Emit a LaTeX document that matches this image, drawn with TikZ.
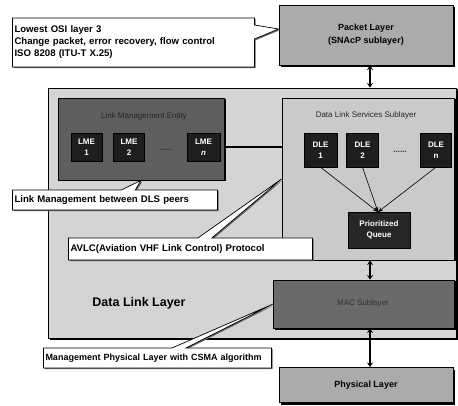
\documentclass[tikz,border=0pt]{standalone}
\usepackage{fontspec}
\setmainfont{Liberation Sans}
\usetikzlibrary{shapes.callouts,shadows,arrows.meta}

\definecolor{layerfill}{HTML}{ABABAB}
\definecolor{dllfill}{HTML}{D4D4D4}
\definecolor{dlsfill}{HTML}{CACACA}
\definecolor{lmefill}{HTML}{5E5E5E}
\definecolor{macfill}{HTML}{6A6A6A}
\definecolor{entfill}{HTML}{1E1E1E}

\tikzset{
  layerbox/.style={draw=black, line width=0.8pt, fill=layerfill,
    drop shadow={shadow xshift=2pt, shadow yshift=-2pt, fill=black, opacity=1},
    font=\bfseries\fontsize{9}{11}\selectfont, align=center, inner sep=0pt},
  areabox/.style={draw=black, line width=0.8pt, inner sep=0pt,
    drop shadow={shadow xshift=1.5pt, shadow yshift=-1.5pt, fill=black, opacity=1}},
  entbox/.style={fill=entfill, draw=black, text=white, align=center, inner sep=0pt,
    font=\bfseries\fontsize{8}{10}\selectfont},
  arealabel/.style={font=\fontsize{8}{10}\selectfont, inner sep=0pt},
  notebox/.style={rectangle callout, draw=black, line width=0.7pt, fill=white,
    drop shadow={shadow xshift=1.2pt, shadow yshift=-1.2pt, fill=black!60, opacity=1},
    callout pointer width=14pt, align=left, inner sep=2pt, anchor=center,
    font=\bfseries\fontsize{9.6}{12}\selectfont},
  linkarrow/.style={line width=2.2pt, {Stealth[length=4.5pt,width=6pt]}-{Stealth[length=4.5pt,width=6pt]}},
  queuearrow/.style={line width=0.6pt, -{Stealth[length=5pt,width=4pt]}},
}

\begin{document}
\begin{tikzpicture}[x=1pt, y=-1pt]
\useasboundingbox[fill=white] (0,0) rectangle (458,406);

% layers outside the data link layer
\node[layerbox, minimum width=174pt, minimum height=60pt] (packet) at (366,35)
  {Packet Layer\\[2pt](SNAcP sublayer)};
\node[layerbox, minimum width=174pt, minimum height=35pt] (phys) at (366,385)
  {Physical Layer};

% data link layer and its sublayers
\node[areabox, fill=dllfill, minimum width=408pt, minimum height=250pt] (dll) at (252,213) {};
\node[font=\bfseries\fontsize{12.5}{14}\selectfont, inner sep=0pt] (dlltitle) at (139,303) {Data Link Layer};

\node[areabox, fill=lmefill, minimum width=166pt, minimum height=82pt] (lment) at (141,139) {};
\node[arealabel, text=black!85] (lmetitle) at (144,116) {Link Management Entity};
\node[entbox, minimum width=31pt, minimum height=28pt] (lme1) at (86.5,147) {LME\\[1pt]1};
\node[entbox, minimum width=31pt, minimum height=28pt] (lme2) at (129,147) {LME\\[1pt]2};
\node[entbox, minimum width=33pt, minimum height=28pt] (lmen) at (203.5,147) {LME\\[1pt]\itshape n};
\node[font=\bfseries\fontsize{8}{8}\selectfont, text=black!80, inner sep=0pt] (lmedots) at (166,150) {......};

\node[areabox, fill=dlsfill, minimum width=172pt, minimum height=162pt] (dls) at (368,179) {};
\node[arealabel, text=black!85] (dlstitle) at (366,115) {Data Link Services Sublayer};
\node[entbox, minimum width=33pt, minimum height=34pt] (dle1) at (320.5,150) {DLE\\[1pt]1};
\node[entbox, minimum width=32pt, minimum height=34pt] (dle2) at (362.5,150) {DLE\\[1pt]2};
\node[entbox, minimum width=31pt, minimum height=34pt] (dlen) at (436,150) {DLE\\[1pt]n};
\node[font=\bfseries\fontsize{8}{8}\selectfont, text=black!80, inner sep=0pt] (dledots) at (400,152) {......};
\node[entbox, fill=black!85, minimum width=62pt, minimum height=36pt,
  font=\bfseries\fontsize{8}{10}\selectfont] (queue) at (379,230) {Prioritized\\[1pt]Queue};

\node[areabox, fill=macfill, minimum width=181pt, minimum height=48pt] (mac) at (364,304) {};
\node[arealabel, text=black!80] (mactitle) at (363,303) {MAC Sublayer};

% connections
\draw[line width=2.6pt] (lment.east |- 0,147) -- (dls.west |- 0,147);
\draw[linkarrow] (packet.south -| 370,0) -- (dll.north -| 370,0);
\draw[linkarrow] (dls.south -| 370,0) -- (mac.north -| 370,0);
\draw[linkarrow] (mac.south -| 370,0) -- (phys.north -| 370,0);

\coordinate (qin) at (378,212);
\draw[queuearrow] (dle1.south) -- (qin);
\draw[queuearrow] (dle2.south) -- (qin);
\draw[queuearrow] (dlen.south) -- (qin);

% notes
\node[notebox, text width=238pt, minimum height=49pt,
  callout absolute pointer={([yshift=6pt]packet.west)}] (note1) at (133.5,42.5)
  {Lowest OSI layer 3\\Change packet, error recovery, flow control\\ISO 8208 (ITU-T X.25)};
\node[notebox, text width=201pt, minimum height=20pt,
  callout absolute pointer={(lment.south)}] (note2) at (115,200)
  {Link Management between DLS peers};
\node[notebox, text width=240pt, minimum height=22pt,
  callout absolute pointer={(dls.west)}] (note3) at (190.5,249)
  {AVLC(Aviation VHF Link Control) Protocol};
\node[notebox, text width=224pt, minimum height=20pt,
  font=\bfseries\fontsize{9}{11}\selectfont,
  callout absolute pointer={(mac.west)}] (note4) at (157.5,358)
  {Management Physical Layer with CSMA algorithm};
\end{tikzpicture}
\end{document}
